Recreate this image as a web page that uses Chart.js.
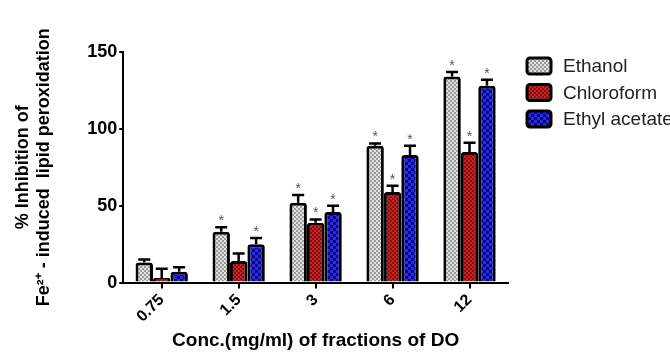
<!DOCTYPE html>
<html>
<head>
<meta charset="utf-8">
<script src="https://cdn.jsdelivr.net/npm/chart.js@4/dist/chart.umd.min.js"></script>
<style>
  html, body { margin: 0; padding: 0; background: #fff; overflow: hidden; }
  #wrap { width: 670px; height: 356px; }
</style>
</head>
<body>
<div id="wrap"><canvas id="chart_1"></canvas></div>
<script>
const categories = ['0.75', '1.5', '3', '6', '12'];
const ethanol_vals = [13, 33, 52, 89, 134];
const ethanol_err = [2, 3, 5, 1.5, 3];
const chloro_vals = [3, 14, 39, 59, 85];
const chloro_err = [6, 5, 2, 4, 6];
const ethyl_vals = [7, 25, 46, 83, 128];
const ethyl_err = [3, 4, 4, 6, 4];
// which bars got a significance star
const ethanol_star = [false, true, true, true, true];
const chloro_star = [false, false, true, true, true];
const ethyl_star = [false, true, true, true, true];

const FONT = '"Liberation Sans", Arial';

function make_pattern(c1, c2, size) {
    const pc = document.createElement('canvas');
    pc.width = size * 2;
    pc.height = size * 2;
    const p = pc.getContext('2d');
    p.fillStyle = c1;
    p.fillRect(0, 0, size * 2, size * 2);
    p.fillStyle = c2;
    p.fillRect(0, 0, size, size);
    p.fillRect(size, size, size, size);
    return document.getElementById('chart_1').getContext('2d').createPattern(pc, 'repeat');
}

const grey_pat = make_pattern('#9a9a9a', '#e2e2e2', 2);
const red_pat = make_pattern('#8a0f0f', '#c42525', 2);
const blue_pat = make_pattern('#08088a', '#2b2bdc', 3);

// upper error bars + stars
const errorBars = {
    id: 'errorBars',
    afterDatasetsDraw(chart) {
        const ctx = chart.ctx;
        const yScale = chart.scales.y;
        chart.data.datasets.forEach((ds, i) => {
            const meta = chart.getDatasetMeta(i);
            meta.data.forEach((bar, j) => {
                const top = yScale.getPixelForValue(ds.data[j] + ds.err[j]);
                ctx.save();
                ctx.strokeStyle = '#000';
                ctx.lineWidth = 2.5;
                ctx.beginPath();
                ctx.moveTo(bar.x, bar.y);
                ctx.lineTo(bar.x, top);
                ctx.moveTo(bar.x - 6, top);
                ctx.lineTo(bar.x + 6, top);
                ctx.stroke();
                if (ds.star[j]) {
                    ctx.fillStyle = '#555';
                    ctx.font = '14px ' + FONT;
                    ctx.textAlign = 'center';
                    ctx.textBaseline = 'bottom';
                    ctx.fillText('*', bar.x, top + 1);
                }
                ctx.restore();
            });
        });
    }
};

// legend on the right, drawn by hand so it does not squeeze the plot
const sideLegend = {
    id: 'sideLegend',
    afterDraw(chart) {
        const ctx = chart.ctx;
        chart.data.datasets.forEach((ds, i) => {
            const x = 527, y = 58 + i * 26.5;
            ctx.save();
            ctx.fillStyle = ds.backgroundColor;
            ctx.strokeStyle = '#000';
            ctx.lineWidth = 3;
            ctx.beginPath();
            ctx.roundRect(x, y, 24, 16, 3);
            ctx.fill();
            ctx.stroke();
            ctx.fillStyle = '#222';
            ctx.font = '19px ' + FONT;
            ctx.textBaseline = 'middle';
            ctx.fillText(ds.label, x + 36, y + 9);
            ctx.restore();
        });
    }
};

var myBarChart = new Chart(document.getElementById('chart_1').getContext('2d'), {
    type: 'bar',
    data: {
        labels: categories,
        datasets: [{
            label: 'Ethanol',
            data: ethanol_vals,
            err: ethanol_err,
            star: ethanol_star,
            backgroundColor: grey_pat
        }, {
            label: 'Chloroform',
            data: chloro_vals,
            err: chloro_err,
            star: chloro_star,
            backgroundColor: red_pat
        }, {
            label: 'Ethyl acetate',
            data: ethyl_vals,
            err: ethyl_err,
            star: ethyl_star,
            backgroundColor: blue_pat
        }]
    },
    options: {
        responsive: true,
        maintainAspectRatio: false,
        animation: false,
        datasets: {
            bar: {
                borderColor: '#000',
                borderWidth: 3,
                borderSkipped: 'bottom',
                borderRadius: 3,
                barPercentage: 1.0,
                categoryPercentage: 0.68
            }
        },
        layout: { padding: { top: 52, left: 12, right: 162, bottom: 4 } },
        plugins: {
            legend: { display: false },
            tooltip: { enabled: false }
        },
        scales: {
            x: {
                grid: {
                    display: true,
                    offset: false,
                    drawOnChartArea: false,
                    color: '#000',
                    lineWidth: 2,
                    tickLength: 6
                },
                border: { color: '#000', width: 2 },
                ticks: {
                    color: '#000',
                    maxRotation: 45,
                    minRotation: 45,
                    padding: 2,
                    font: { size: 16, weight: 'bold', family: FONT }
                },
                title: {
                    display: true,
                    text: 'Conc.(mg/ml) of fractions of DO',
                    color: '#000',
                    padding: { top: 1, bottom: 0 },
                    font: { size: 19, weight: 'bold', family: FONT }
                }
            },
            y: {
                min: 0,
                max: 150,
                grid: {
                    display: true,
                    drawOnChartArea: false,
                    color: '#000',
                    lineWidth: 2,
                    tickLength: 4
                },
                border: { color: '#000', width: 2 },
                ticks: {
                    stepSize: 50,
                    color: '#000',
                    padding: 2,
                    font: { size: 18, weight: 'bold', family: FONT }
                },
                title: {
                    display: true,
                    text: ['% Inhibition of', 'Fe²⁺ - induced  lipid peroxidation'],
                    color: '#000',
                    padding: { top: 0, bottom: 30 },
                    font: { size: 18, weight: 'bold', family: FONT }
                }
            }
        }
    },
    plugins: [errorBars, sideLegend]
});
</script>
</body>
</html>
